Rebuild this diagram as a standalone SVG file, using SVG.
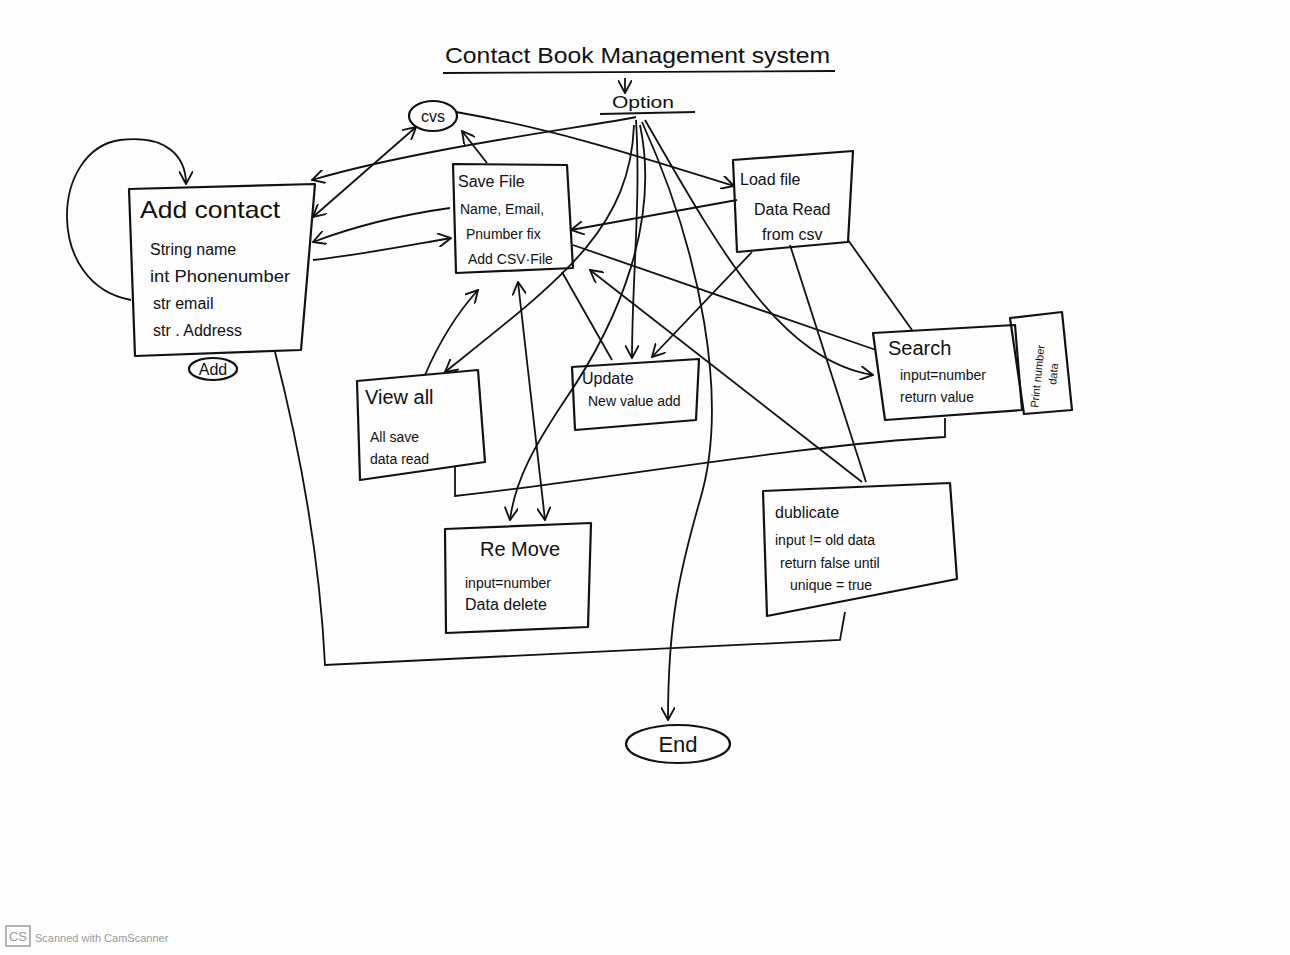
<svg xmlns="http://www.w3.org/2000/svg" width="1290" height="955" viewBox="0 0 1290 955">
<defs>
<marker id="ah" viewBox="0 0 12 12" refX="11" refY="6" markerWidth="14" markerHeight="14" markerUnits="userSpaceOnUse" orient="auto-start-reverse">
<path d="M0,0 L11,6 L0,12" fill="none" stroke="#111" stroke-width="1.6"/>
</marker>
<style>
.box{fill:none;stroke:#111;stroke-width:2.2;stroke-linejoin:round}
.c{fill:none;stroke:#111;stroke-width:1.8}
.a{marker-end:url(#ah)}
.b{marker-start:url(#ah);marker-end:url(#ah)}
text{font-family:"Liberation Sans","DejaVu Sans",sans-serif;fill:#111}
.h{font-size:22px}
.t{font-size:16px}
.s{font-size:14px}
</style>
</defs>
<rect width="1290" height="955" fill="#fdfdfd"/>

<g id="title">
<text x="445" y="63" class="h" textLength="385" lengthAdjust="spacingAndGlyphs">Contact Book Management system</text>
<path class="c" d="M443,73 L835,71"/>
<path class="c a" d="M625,78 L625,93"/>
</g>

<g id="option">
<text x="612" y="108" class="t" textLength="62" lengthAdjust="spacingAndGlyphs">Option</text>
<path class="c" d="M600,114 L695,112"/>
</g>

<g id="cvs">
<ellipse cx="433" cy="116" rx="24" ry="15" class="box"/>
<text x="433" y="122" class="t" text-anchor="middle">cvs</text>
</g>

<g id="add-contact">
<polygon class="box" points="129,189 315,184 301,350 135,356"/>
<text x="140" y="218" font-size="24" textLength="140" lengthAdjust="spacingAndGlyphs">Add contact</text>
<text x="150" y="255" class="t">String name</text>
<text x="150" y="282" class="t" textLength="140" lengthAdjust="spacingAndGlyphs">int Phonenumber</text>
<text x="153" y="309" class="t">str email</text>
<text x="153" y="336" class="t">str . Address</text>
<ellipse cx="213" cy="369" rx="24" ry="11" class="box"/>
<text x="213" y="375" class="t" text-anchor="middle">Add</text>
</g>

<g id="save-file">
<polygon class="box" points="453,164 567,165 573,268 456,273"/>
<text x="458" y="187" class="t">Save File</text>
<text x="460" y="214" class="s">Name, Email,</text>
<text x="466" y="239" class="s">Pnumber fix</text>
<text x="468" y="264" class="s">Add CSV·File</text>
</g>

<g id="load-file">
<polygon class="box" points="733,160 853,151 848,242 737,252"/>
<text x="740" y="185" class="t">Load file</text>
<text x="754" y="215" class="t">Data Read</text>
<text x="762" y="240" class="t">from csv</text>
</g>

<g id="search">
<polygon class="box" points="873,333 1015,325 1022,410 885,420"/>
<text x="888" y="355" font-size="20">Search</text>
<text x="900" y="380" class="s">input=number</text>
<text x="900" y="402" class="s">return value</text>
<polygon class="box" points="1010,318 1062,312 1072,410 1024,414"/>
<text transform="translate(1038,408) rotate(-84)" font-size="11">Print number</text>
<text transform="translate(1056,385) rotate(-84)" font-size="11">data</text>
</g>

<g id="view-all">
<polygon class="box" points="357,381 478,370 485,462 360,480"/>
<text x="365" y="404" font-size="20">View all</text>
<text x="370" y="442" class="s">All save</text>
<text x="370" y="464" class="s">data read</text>
</g>

<g id="update">
<polygon class="box" points="572,367 699,359 696,420 575,430"/>
<text x="582" y="384" class="t">Update</text>
<text x="588" y="406" class="s">New value add</text>
</g>

<g id="remove">
<polygon class="box" points="445,529 591,523 588,627 446,633"/>
<text x="480" y="556" font-size="20">Re Move</text>
<text x="465" y="588" class="s">input=number</text>
<text x="465" y="610" class="t">Data delete</text>
</g>

<g id="duplicate">
<polygon class="box" points="763,491 950,483 957,579 767,616"/>
<text x="775" y="518" class="t">dublicate</text>
<text x="775" y="545" class="s">input != old data</text>
<text x="780" y="568" class="s">return false until</text>
<text x="790" y="590" class="s">unique = true</text>
</g>

<g id="end">
<ellipse cx="678" cy="744" rx="52" ry="19" class="box"/>
<text x="678" y="752" font-size="22" text-anchor="middle">End</text>
</g>

<g id="connectors">
<path class="c a" d="M636,117 C600,125 420,148 312,180"/>
<path class="c a" d="M634,125 C630,230 560,280 445,372"/>
<path class="c a" d="M636,120 C641,200 632,280 632,358"/>
<path class="c a" d="M640,125 C660,220 620,320 565,400 C535,445 515,480 510,520"/>
<path class="c a" d="M642,122 C700,250 730,400 700,500 C680,570 668,620 668,720"/>
<path class="c a" d="M645,120 C720,250 780,360 873,375"/>
<path class="c a" d="M131,300 C45,285 50,150 120,140 C168,134 186,158 186,184"/>
<path class="c b" d="M313,217 L416,127"/>
<path class="c a" d="M487,163 L462,131"/>
<path class="c a" d="M456,112 C560,130 650,160 734,186"/>
<path class="c a" d="M450,208 C400,215 350,228 313,242"/>
<path class="c a" d="M313,260 C360,255 410,245 451,238"/>
<path class="c a" d="M737,200 L571,230"/>
<path class="c" d="M573,245 L876,350"/>
<path class="c a" d="M862,482 L590,270"/>
<path class="c" d="M790,245 L866,482"/>
<path class="c" d="M848,240 L912,330"/>
<path class="c a" d="M752,252 L652,357"/>
<path class="c" d="M562,272 L612,360"/>
<path class="c a" d="M425,375 C440,340 460,310 478,290"/>
<path class="c b" d="M518,282 L545,520"/>
<path class="c" d="M945,418 L945,437 C800,445 600,480 455,496 L455,466"/>
<path class="c" d="M275,352 C300,450 320,560 325,665 L840,640 L845,612"/>
</g>

<g id="watermark">
<rect x="6" y="926" width="24" height="20" fill="none" stroke="#999" stroke-width="1.5"/>
<text x="18" y="941" font-size="13" text-anchor="middle" style="fill:#999">CS</text>
<text x="35" y="942" font-size="11" style="fill:#999">Scanned with CamScanner</text>
</g>
</svg>
